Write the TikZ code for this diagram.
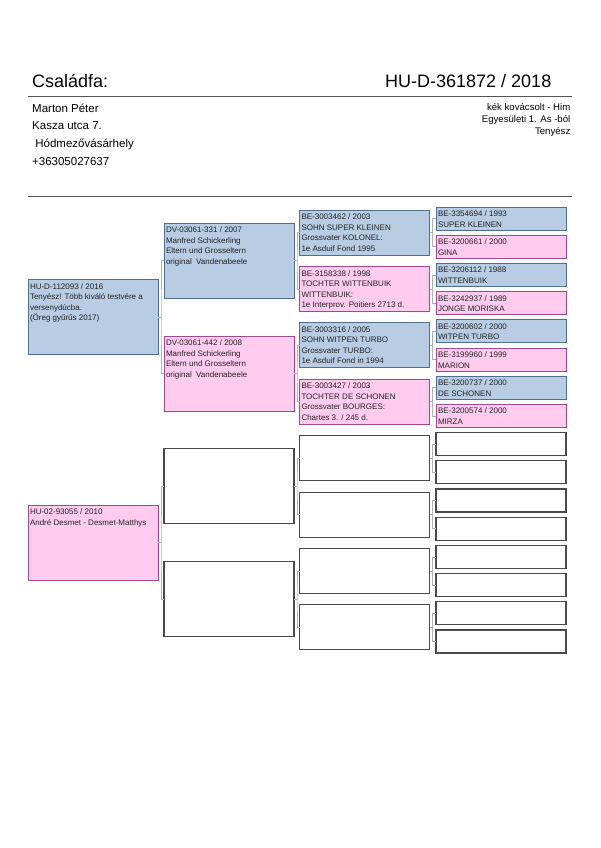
\documentclass[tikz,border=0pt]{standalone}
\usepackage{fontspec}
\setmainfont{Liberation Sans}
\usetikzlibrary{calc}
\definecolor{bfill}{HTML}{B8CCE4}
\definecolor{bdraw}{HTML}{4F6F8F}
\definecolor{pfill}{HTML}{FFCCF0}
\definecolor{pdraw}{HTML}{A04888}
\definecolor{edraw}{HTML}{4A4A4A}
\definecolor{txt}{HTML}{222222}
\definecolor{hline}{HTML}{555555}
\newcommand\bt[2]{\parbox[c][#1pt][t]{126pt}{\raggedright\fontsize{8}{10.5}\selectfont\rule{0pt}{9.5pt}#2}}
\newcommand\pedlink[3]{\draw[conn] (#1.east) -- ++(3,0) coordinate (#1m);
  \draw[conn] (#2.west) -| (#1m) |- (#3.west);}
\begin{document}
\begin{tikzpicture}[x=1pt,y=-1pt,
  pbox/.style={rectangle,inner sep=0pt,outer sep=0pt,minimum width=130pt,line width=0.9pt,text=txt,anchor=center},
  bluebox/.style={pbox,fill=bfill,draw=bdraw},
  pinkbox/.style={pbox,fill=pfill,draw=pdraw},
  emptybox/.style={pbox,fill=white,draw=edraw,line width=1.1pt},
  hbig/.style={minimum height=75pt},
  hmid/.style={minimum height=45pt},
  hsmall/.style={minimum height=23pt},
  conn/.style={draw=gray!60,line width=0.8pt},
  head/.style={inner sep=0pt,text=black},
  sepline/.style={draw=hline,line width=1pt}]
\useasboundingbox (0,0) rectangle (600,848);
\fill[white] (0,0) rectangle (600,848);

% header
\node[head,anchor=base west,font=\fontsize{18}{20}\selectfont] (title) at (32,88) {Családfa:};
\node[head,anchor=base east,font=\fontsize{18}{20}\selectfont] (ring) at (551.5,88) {HU-D-361872 / 2018};
\coordinate (l1a) at (28,96.7); \coordinate (l1b) at (572,96.7);
\draw[sepline] (l1a) -- (l1b);
\coordinate (l2a) at (28,196); \coordinate (l2b) at (572,196);
\draw[sepline] (l2a) -- (l2b);
\node[head,anchor=base west,font=\fontsize{11.5}{13}\selectfont] (own1) at (32,112.3) {Marton Péter};
\node[head,anchor=base west,font=\fontsize{11.5}{13}\selectfont] (own2) at (32,130) {Kasza utca 7.};
\node[head,anchor=base west,font=\fontsize{11.5}{13}\selectfont] (own3) at (35.2,147.7) {Hódmezővásárhely};
\node[head,anchor=base west,font=\fontsize{11.5}{13}\selectfont] (own4) at (32,165.7) {+36305027637};
\node[head,anchor=base east,font=\fontsize{9.6}{11}\selectfont] (inf1) at (570.5,111) {kék kovácsolt - Him};
\node[head,anchor=base east,font=\fontsize{9.6}{11}\selectfont] (inf2) at (570.5,123) {Egyesületi 1. As -ból};
\node[head,anchor=base east,font=\fontsize{9.6}{11}\selectfont] (inf3) at (570.5,135) {Tenyész};

% generation 1
\node[bluebox,hbig] (g1a) at (93,317.2) {\bt{75}{HU-D-112093 / 2016\\Tenyész! Több kiváló testvére a\\versenydúcba.\\(Öreg gyűrűs 2017)}};
\node[pinkbox,hbig] (g1b) at (93,542.8) {\bt{75}{HU-02-93055 / 2010\\André Desmet - Desmet-Matthys}};

% generation 2
\node[bluebox,hbig] (g2a) at (229,260.8) {\bt{75}{DV-03061-331 / 2007\\Manfred Schickerling\\Eltern und Grosseltern\\original\ \ Vandenabeele}};
\node[pinkbox,hbig] (g2b) at (229,373.6) {\bt{75}{DV-03061-442 / 2008\\Manfred Schickerling\\Eltern und Grosseltern\\original\ \ Vandenabeele}};
\node[emptybox,hbig] (g2c) at (229,486.4) {};
\node[emptybox,hbig] (g2d) at (229,599.2) {};

% generation 3
\node[bluebox,hmid] (g3a) at (364.5,232.6) {\bt{45}{BE-3003462 / 2003\\SOHN SUPER KLEINEN\\Grossvater KOLONEL:\\1e Asduif Fond 1995}};
\node[pinkbox,hmid] (g3b) at (364.5,289.0) {\bt{45}{BE-3158338 / 1998\\TOCHTER WITTENBUIK\\WITTENBUIK:\\1e Interprov. Poitiers 2713 d.}};
\node[bluebox,hmid] (g3c) at (364.5,345.4) {\bt{45}{BE-3003316 / 2005\\SOHN WITPEN TURBO\\Grossvater TURBO:\\1e Asduif Fond in 1994}};
\node[pinkbox,hmid] (g3d) at (364.5,401.8) {\bt{45}{BE-3003427 / 2003\\TOCHTER DE SCHONEN\\Grossvater BOURGES:\\Chartes 3. / 245 d.}};
\node[emptybox,hmid] (g3e) at (364.5,458.2) {};
\node[emptybox,hmid] (g3f) at (364.5,514.6) {};
\node[emptybox,hmid] (g3g) at (364.5,571.0) {};
\node[emptybox,hmid] (g3h) at (364.5,627.4) {};

% generation 4
\node[bluebox,hsmall] (g4a) at (501,218.5) {\bt{23}{BE-3354694 / 1993\\SUPER KLEINEN}};
\node[pinkbox,hsmall] (g4b) at (501,246.7) {\bt{23}{BE-3200661 / 2000\\GINA}};
\node[bluebox,hsmall] (g4c) at (501,274.9) {\bt{23}{BE-3206112 / 1988\\WITTENBUIK}};
\node[pinkbox,hsmall] (g4d) at (501,303.1) {\bt{23}{BE-3242937 / 1989\\JONGE MORISKA}};
\node[bluebox,hsmall] (g4e) at (501,331.3) {\bt{23}{BE-3200602 / 2000\\WITPEN TURBO}};
\node[pinkbox,hsmall] (g4f) at (501,359.5) {\bt{23}{BE-3199960 / 1999\\MARION}};
\node[bluebox,hsmall] (g4g) at (501,387.7) {\bt{23}{BE-3200737 / 2000\\DE SCHONEN}};
\node[pinkbox,hsmall] (g4h) at (501,415.9) {\bt{23}{BE-3200574 / 2000\\MIRZA}};
\node[emptybox,hsmall] (g4i) at (501,444.1) {};
\node[emptybox,hsmall] (g4j) at (501,472.3) {};
\node[emptybox,hsmall] (g4k) at (501,500.5) {};
\node[emptybox,hsmall] (g4l) at (501,528.7) {};
\node[emptybox,hsmall] (g4m) at (501,556.9) {};
\node[emptybox,hsmall] (g4n) at (501,585.1) {};
\node[emptybox,hsmall] (g4o) at (501,613.3) {};
\node[emptybox,hsmall] (g4p) at (501,641.5) {};

% connectors
\pedlink{g1a}{g2a}{g2b}
\pedlink{g1b}{g2c}{g2d}
\pedlink{g2a}{g3a}{g3b}
\pedlink{g2b}{g3c}{g3d}
\pedlink{g2c}{g3e}{g3f}
\pedlink{g2d}{g3g}{g3h}
\pedlink{g3a}{g4a}{g4b}
\pedlink{g3b}{g4c}{g4d}
\pedlink{g3c}{g4e}{g4f}
\pedlink{g3d}{g4g}{g4h}
\pedlink{g3e}{g4i}{g4j}
\pedlink{g3f}{g4k}{g4l}
\pedlink{g3g}{g4m}{g4n}
\pedlink{g3h}{g4o}{g4p}
\end{tikzpicture}
\end{document}
